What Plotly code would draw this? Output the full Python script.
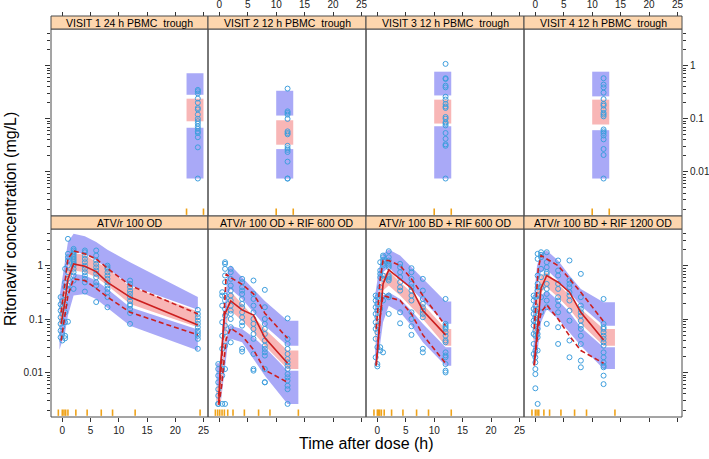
import plotly.graph_objects as go

# ---------------- text ----------------
top_titles = ["VISIT 1 24 h PBMC\u00a0 trough", "VISIT 2 12 h PBMC\u00a0 trough",
              "VISIT 3 12 h PBMC\u00a0 trough", "VISIT 4 12 h PBMC\u00a0 trough"]
bottom_titles = ["ATV/r 100 OD", "ATV/r 100 OD + RIF 600 OD",
                 "ATV/r 100 BD + RIF 600 OD", "ATV/r 100 BD + RIF 1200 OD"]
x_ticks = [0, 5, 10, 15, 20, 25]
y_ticks = [0.01, 0.1, 1]
y_ticktext = ["0.01", "0.1", "1"]
y_minor = [m * d for d in (0.001, 0.01, 0.1, 1) for m in range(2, 10)]

# ---------------- top row: PBMC trough visits ----------------
v1_time = 24
v1_conc = [0.35, 0.33, 0.30, 0.24, 0.20, 0.16, 0.15, 0.12, 0.10, 0.090, 0.081,
           0.072, 0.065, 0.058, 0.054, 0.045, 0.029, 0.0075]
v1_bin = [22, 25]
v1_up = [0.72, 0.283]
v1_med = [0.239, 0.0897]
v1_lo = [0.0676, 0.00753]

v2_time = 12
v2_conc = [0.37, 0.138, 0.129, 0.12, 0.0995, 0.058, 0.054, 0.051, 0.031, 0.028,
           0.026, 0.0237, 0.0156, 0.0075, 0.0075]
v2_bin = [10, 13]
v2_up = [0.337, 0.115]
v2_med = [0.0938, 0.0325]
v2_lo = [0.0269, 0.0075]

v3_time = 12
v3_conc = [1.08, 0.58, 0.56, 0.42, 0.39, 0.26, 0.23, 0.19, 0.17, 0.16, 0.108, 0.10,
           0.086, 0.081, 0.075, 0.054, 0.042, 0.033, 0.031, 0.0075]
v3_bin = [10, 13]
v3_up = [0.77, 0.275]
v3_med = [0.229, 0.0813]
v3_lo = [0.0724, 0.0075]

v4_time = 12
v4_conc = [0.58, 0.44, 0.39, 0.31, 0.235, 0.19, 0.177, 0.149, 0.129, 0.12, 0.111,
           0.063, 0.058, 0.054, 0.0485, 0.041, 0.027, 0.0208, 0.0075]
v4_bin = [10, 13]
v4_up = [0.77, 0.264]
v4_med = [0.229, 0.078]
v4_lo = [0.061, 0.0075]

# ---------------- panel 1: ATV/r 100 OD ----------------
p1_bin_t = [-0.5, 0.5, 1, 2, 4, 6, 8, 12, 24]
p1_up_hi = [0.26, 1.35, 2.8, 4.0, 3.6, 2.8, 2.0, 1.17, 0.26]
p1_up_lo = [0.135, 0.43, 0.94, 1.8, 1.68, 1.26, 0.90, 0.43, 0.15]
p1_med_hi = [0.126, 0.41, 0.90, 1.73, 1.61, 1.21, 0.88, 0.41, 0.139]
p1_med_lo = [0.066, 0.18, 0.46, 0.82, 0.76, 0.61, 0.43, 0.194, 0.071]
p1_lo_hi = [0.061, 0.156, 0.40, 0.71, 0.66, 0.53, 0.37, 0.168, 0.064]
p1_lo_lo = [0.027, 0.057, 0.117, 0.278, 0.298, 0.24, 0.168, 0.076, 0.026]
p1_line_t = [-0.2, 0.5, 1, 2, 4, 6, 8, 12, 24]
p1_median = [0.082, 0.22, 0.57, 1.09, 0.98, 0.78, 0.49, 0.26, 0.078]
p1_p95 = [0.135, 0.57, 1.35, 1.91, 1.68, 1.35, 0.90, 0.43, 0.126]
p1_p05 = [0.04, 0.117, 0.28, 0.57, 0.53, 0.38, 0.26, 0.135, 0.051]
p1_obs_t = [-0.3, 0, 0.5, 1, 2, 4, 6, 8, 12, 24]
p1_obs_c = [
    [0.26, 0.19, 0.145, 0.109, 0.082, 0.061, 0.046],
    [0.22, 0.17, 0.126, 0.094, 0.071, 0.053, 0.040],
    [0.88, 0.49, 0.40, 0.28, 0.19, 0.135, 0.088, 0.049, 0.044],
    [3.2, 1.68, 1.45, 1.26, 1.01, 0.76, 0.57, 0.43, 0.37, 0.09],
    [2.08, 1.94, 1.80, 1.68, 1.56, 1.45, 1.35, 1.26, 1.17, 1.09, 1.01, 0.88, 0.76, 0.66, 0.53, 0.37],
    [1.94, 1.80, 1.56, 1.35, 1.17, 1.01, 0.88, 0.76, 0.66, 0.57, 0.49, 0.33],
    [1.94, 1.56, 1.26, 1.09, 0.94, 0.82, 0.71, 0.61, 0.49, 0.43, 0.21],
    [1.01, 0.94, 0.88, 0.76, 0.66, 0.57, 0.49, 0.43, 0.37, 0.32, 0.26, 0.168],
    [0.53, 0.46, 0.40, 0.34, 0.30, 0.26, 0.22, 0.19, 0.18, 0.156, 0.131, 0.082],
    [0.15, 0.126, 0.109, 0.094, 0.082, 0.071, 0.061, 0.055, 0.049, 0.043, 0.028],
]
p1_rug = [-0.7, 0, 0.3, 0.6, 1.0, 2.4, 4.4, 6.9, 8.9, 12.9, 24.4]

# ---------------- panel 2: ATV/r 100 OD + RIF 600 OD ----------------
p2_bin_t = [-0.5, 0.2, 1.5, 2, 4, 6, 8, 12, 13.9]
p2_up_hi = [0.015, 0.015, 0.85, 1.01, 0.61, 0.37, 0.22, 0.094, 0.094]
p2_up_lo = [0.0057, 0.0057, 0.30, 0.37, 0.24, 0.135, 0.076, 0.032, 0.032]
p2_med_hi = [0.0055, 0.0055, 0.27, 0.33, 0.194, 0.114, 0.066, 0.026, 0.026]
p2_med_lo = [0.0025, 0.0025, 0.12, 0.145, 0.094, 0.057, 0.032, 0.0117, 0.0117]
p2_lo_hi = [0.0046, 0.0046, 0.07, 0.076, 0.066, 0.046, 0.030, 0.0109, 0.0109]
p2_lo_lo = [0.0025, 0.0025, 0.035, 0.043, 0.037, 0.018, 0.0088, 0.0026, 0.0026]
p2_line_t = [-0.1, 0.1, 0.9, 2, 4, 6, 8, 12]
p2_median = [0.0027, 0.0097, 0.12, 0.22, 0.15, 0.12, 0.045, 0.015]
p2_p95_t = [-0.1, 0.4, 1.2, 2, 4, 6, 8, 12]
p2_p95 = [0.0037, 0.0156, 0.70, 0.60, 0.45, 0.30, 0.13, 0.044]
p2_p05 = [0.0025, 0.0057, 0.043, 0.068, 0.049, 0.027, 0.0112, 0.0066]
p2_obs_t = [-0.2, 0.5, 1, 2, 4, 6, 8, 12]
p2_obs_c = [
    [0.0145, 0.0117, 0.0088, 0.0066, 0.0049, 0.0037, 0.0026, 0.0026],
    [0.321, 0.278, 0.18, 0.088, 0.049, 0.028, 0.0156, 0.0117, 0.0088, 0.0026],
    [1.17, 1.09, 0.878, 0.659, 0.494, 0.278, 0.224, 0.156, 0.117, 0.076, 0.057, 0.032, 0.0117, 0.0026],
    [0.878, 0.761, 0.57, 0.428, 0.344, 0.278, 0.224, 0.18, 0.145, 0.126, 0.101, 0.071, 0.037],
    [0.57, 0.494, 0.398, 0.344, 0.298, 0.24, 0.194, 0.168, 0.135, 0.109, 0.088, 0.076, 0.0278, 0.0248],
    [0.531, 0.298, 0.24, 0.18, 0.135, 0.101, 0.082, 0.066, 0.053, 0.043, 0.0224, 0.0117, 0.0109],
    [0.355, 0.168, 0.101, 0.082, 0.066, 0.053, 0.040, 0.032, 0.0278, 0.0241, 0.0209, 0.0117, 0.0066, 0.0066],
    [0.104, 0.043, 0.0345, 0.0278, 0.0224, 0.018, 0.0156, 0.0135, 0.0117, 0.0094, 0.0082, 0.0071, 0.0057, 0.0049, 0.0026],
]
p2_rug = [-0.7, -0.3, 0.06, 0.47, 0.88, 1.47, 2.4, 4.4, 6.9, 8.9, 13.9]

# ---------------- panel 3: ATV/r 100 BD + RIF 600 OD ----------------
p3_bin_t = [-0.4, 0.3, 1, 2, 4, 6, 8, 12, 13]
p3_up_hi = [0.278, 0.878, 1.68, 2.02, 1.56, 0.944, 0.57, 0.214, 0.214]
p3_up_lo = [0.076, 0.398, 0.761, 0.944, 0.57, 0.37, 0.224, 0.082, 0.082]
p3_med_hi = [0.066, 0.344, 0.659, 0.818, 0.494, 0.321, 0.194, 0.066, 0.066]
p3_med_lo = [0.032, 0.135, 0.344, 0.428, 0.278, 0.168, 0.101, 0.032, 0.032]
p3_lo_hi = [0.0278, 0.117, 0.278, 0.321, 0.24, 0.145, 0.082, 0.030, 0.030]
p3_lo_lo = [0.0135, 0.0241, 0.088, 0.18, 0.135, 0.076, 0.037, 0.0135, 0.0135]
p3_line_t = [-0.2, 0.5, 1, 2, 4, 6, 8, 12]
p3_median = [0.0139, 0.117, 0.46, 0.84, 0.57, 0.381, 0.145, 0.051]
p3_p95 = [0.066, 0.57, 1.26, 1.26, 1.01, 0.57, 0.278, 0.076]
p3_p05 = [0.0135, 0.117, 0.278, 0.259, 0.224, 0.126, 0.051, 0.015]
p3_obs_t = [-0.3, 0, 0.5, 1, 2, 4, 6, 8, 12]
p3_obs_c = [
    [0.278, 0.224, 0.168, 0.126, 0.088, 0.066, 0.043, 0.0194],
    [0.259, 0.194, 0.145, 0.109, 0.076, 0.057, 0.030, 0.0145, 0.0131],
    [1.17, 0.818, 0.708, 0.613, 0.398, 0.278, 0.156, 0.030, 0.026],
    [1.56, 1.45, 1.26, 1.09, 1.01, 0.659, 0.57, 0.278, 0.224, 0.024],
    [1.88, 1.45, 1.26, 1.09, 1.01, 0.944, 0.659, 0.613, 0.57, 0.531, 0.278, 0.259, 0.126],
    [1.09, 0.944, 0.761, 0.613, 0.494, 0.398, 0.344, 0.135, 0.084],
    [0.904, 0.761, 0.57, 0.46, 0.398, 0.344, 0.278, 0.224, 0.135, 0.101, 0.074, 0.051],
    [0.57, 0.344, 0.24, 0.194, 0.168, 0.145, 0.126, 0.109, 0.028, 0.024],
    [0.24, 0.082, 0.076, 0.071, 0.066, 0.057, 0.049, 0.040, 0.037, 0.024, 0.021, 0.0194, 0.0145, 0.0109, 0.0101],
]
p3_rug = [-0.6, 0, 0.18, 0.4, 0.7, 1.2, 2.5, 4.5, 6.9, 9, 13]

# ---------------- panel 4: ATV/r 100 BD + RIF 1200 OD ----------------
p4_bin_t = [-0.4, 0.3, 1, 2, 4, 6, 8, 12, 14]
p4_up_hi = [0.18, 1.01, 1.68, 1.94, 1.26, 0.659, 0.37, 0.208, 0.208]
p4_up_lo = [0.071, 0.428, 0.761, 0.854, 0.531, 0.321, 0.18, 0.076, 0.076]
p4_med_hi = [0.066, 0.37, 0.659, 0.761, 0.46, 0.278, 0.156, 0.066, 0.066]
p4_med_lo = [0.0345, 0.117, 0.321, 0.398, 0.259, 0.156, 0.082, 0.032, 0.032]
p4_lo_hi = [0.030, 0.101, 0.278, 0.344, 0.224, 0.135, 0.071, 0.030, 0.030]
p4_lo_lo = [0.0135, 0.0209, 0.088, 0.156, 0.101, 0.057, 0.032, 0.0117, 0.0117]
p4_line_t = [-0.2, 0.5, 1, 2, 4, 6, 8, 12]
p4_median = [0.0139, 0.117, 0.381, 0.659, 0.494, 0.321, 0.135, 0.041]
p4_p95 = [0.066, 0.878, 1.56, 1.35, 1.01, 0.57, 0.321, 0.091]
p4_p05 = [0.0135, 0.066, 0.135, 0.186, 0.101, 0.049, 0.026, 0.015]
p4_obs_t = [-0.3, 0, 0.4, 1, 2, 4, 6, 8, 12]
p4_obs_c = [
    [0.278, 0.224, 0.156, 0.126, 0.094, 0.076, 0.053, 0.0345, 0.0224],
    [0.259, 0.18, 0.145, 0.109, 0.088, 0.061, 0.049, 0.026, 0.0194, 0.0156, 0.0117, 0.0094, 0.0051],
    [1.68, 1.35, 0.659, 0.46, 0.398, 0.344, 0.278, 0.156, 0.117, 0.088, 0.066, 0.053, 0.046, 0.026, 0.0026],
    [1.80, 1.61, 1.45, 0.878, 0.613, 0.398, 0.259, 0.135],
    [1.80, 1.17, 0.944, 0.761, 0.708, 0.46, 0.37, 0.298, 0.224, 0.168, 0.082],
    [1.26, 0.818, 0.659, 0.46, 0.37, 0.259, 0.224, 0.18, 0.135, 0.071, 0.0345],
    [1.26, 0.531, 0.46, 0.398, 0.321, 0.278, 0.224, 0.145, 0.094, 0.040, 0.0194],
    [0.708, 0.259, 0.18, 0.156, 0.135, 0.117, 0.094, 0.076, 0.066, 0.049, 0.0345, 0.0168, 0.0126],
    [0.24, 0.082, 0.071, 0.066, 0.057, 0.049, 0.043, 0.037, 0.032, 0.024, 0.0194, 0.0156, 0.0135, 0.0126, 0.0088, 0.0061],
]
p4_rug = [-0.6, 0, 0.3, 0.6, 1.5, 2.5, 4.5, 6.9, 9, 14]

# ---------------- styling ----------------
FONT = "Liberation Sans, Arial, sans-serif"
BLUE = "#A9A9F7"
PINK = "#F8B6B6"
RED = "#CC1F1F"
PT = "#3F9FDE"
RUG = "#EFA31A"
STRIP = "#FDD6AE"
FRAME = "#4a4a4a"
W, H = 709, 459

col_px = [(51, 208), (208, 366), (366, 524), (524, 682)]
top_px, bot_px = (29, 216), (229, 417)
strip_top_px, strip_bot_px = (16, 29), (216, 229)
X_RANGE = [-2.0, 25.8]
Y_RANGE = [-2.83, 0.69]


def fx(p):
    return p / W


def fy(p):
    return 1 - p / H


fig = go.Figure()
shapes, annotations = [], []


def axn(k):
    return "" if k == 1 else str(k)


def band(k, xs, lo, hi, color):
    fig.add_trace(go.Scatter(x=list(xs) + list(xs)[::-1], y=list(hi) + list(lo)[::-1],
                             fill="toself", fillcolor=color, mode="lines",
                             line=dict(width=0, color=color), hoverinfo="skip",
                             xaxis="x" + axn(k), yaxis="y" + axn(k)))


def points(k, xs, ys):
    fig.add_trace(go.Scatter(x=xs, y=ys, mode="markers",
                             marker=dict(symbol="circle-open", size=5, color=PT,
                                         line=dict(width=1, color=PT)),
                             xaxis="x" + axn(k), yaxis="y" + axn(k)))


def line(k, xs, ys, dash):
    fig.add_trace(go.Scatter(x=xs, y=ys, mode="lines",
                             line=dict(color=RED, width=1.6, dash=dash),
                             xaxis="x" + axn(k), yaxis="y" + axn(k)))


def rug(k, xs):
    for v in xs:
        shapes.append(dict(type="line", xref="x" + axn(k), yref="y" + axn(k) + " domain",
                           x0=v, x1=v, y0=0.006, y1=0.04,
                           line=dict(color=RUG, width=1.6)))


# top row panels (k = 1..4)
top_sets = [
    (v1_time, v1_conc, v1_bin, v1_up, v1_med, v1_lo),
    (v2_time, v2_conc, v2_bin, v2_up, v2_med, v2_lo),
    (v3_time, v3_conc, v3_bin, v3_up, v3_med, v3_lo),
    (v4_time, v4_conc, v4_bin, v4_up, v4_med, v4_lo),
]
for i, (t, conc, bn, up, med, lo) in enumerate(top_sets):
    k = i + 1
    band(k, bn, [up[1]] * 2, [up[0]] * 2, BLUE)
    band(k, bn, [lo[1]] * 2, [lo[0]] * 2, BLUE)
    band(k, bn, [med[1]] * 2, [med[0]] * 2, PINK)
    points(k, [t] * len(conc), conc)
    rug(k, bn)

# bottom row panels (k = 5..8)
bottom_sets = [
    (p1_bin_t, p1_up_hi, p1_up_lo, p1_med_hi, p1_med_lo, p1_lo_hi, p1_lo_lo,
     p1_line_t, p1_median, p1_line_t, p1_p95, p1_line_t, p1_p05, p1_obs_t, p1_obs_c, p1_rug),
    (p2_bin_t, p2_up_hi, p2_up_lo, p2_med_hi, p2_med_lo, p2_lo_hi, p2_lo_lo,
     p2_line_t, p2_median, p2_p95_t, p2_p95, p2_p95_t, p2_p05, p2_obs_t, p2_obs_c, p2_rug),
    (p3_bin_t, p3_up_hi, p3_up_lo, p3_med_hi, p3_med_lo, p3_lo_hi, p3_lo_lo,
     p3_line_t, p3_median, p3_line_t, p3_p95, p3_line_t, p3_p05, p3_obs_t, p3_obs_c, p3_rug),
    (p4_bin_t, p4_up_hi, p4_up_lo, p4_med_hi, p4_med_lo, p4_lo_hi, p4_lo_lo,
     p4_line_t, p4_median, p4_line_t, p4_p95, p4_line_t, p4_p05, p4_obs_t, p4_obs_c, p4_rug),
]
for i, s in enumerate(bottom_sets):
    k = i + 5
    (bt, uh, ul, mh, ml, lh, ll, mt, med, ut, p95, lt, p05, ot, oc, rg) = s
    band(k, bt, ul, uh, BLUE)
    band(k, bt, ll, lh, BLUE)
    band(k, bt, ml, mh, PINK)
    xs, ys = [], []
    for t, cs in zip(ot, oc):
        xs += [t] * len(cs)
        ys += cs
    points(k, xs, ys)
    line(k, ut, p95, "5px,3px")
    line(k, lt, p05, "5px,3px")
    line(k, mt, med, "solid")
    rug(k, rg)

# axes
layout = {}
tickfont = dict(family=FONT, size=10, color="#222")
for row in range(2):
    for c in range(4):
        k = row * 4 + c + 1
        n = axn(k)
        ydom = [fy(top_px[1]), fy(top_px[0])] if row == 0 else [fy(bot_px[1]), fy(bot_px[0])]
        xa = dict(domain=[fx(col_px[c][0]), fx(col_px[c][1])], range=X_RANGE,
                  tickvals=x_ticks, ticks="outside", ticklen=4, tickcolor="#333",
                  showgrid=False, zeroline=False, showline=False, tickfont=tickfont)
        if row == 0:
            xa.update(anchor="free", position=fy(strip_top_px[0]), side="top",
                      showticklabels=(c in (1, 3)))
        else:
            xa.update(anchor="y" + n, side="bottom", showticklabels=(c in (0, 2)))
        ya = dict(domain=ydom, type="log", range=Y_RANGE, anchor="x" + n,
                  tickvals=y_ticks, ticktext=y_ticktext, showgrid=False,
                  zeroline=False, showline=False, tickfont=tickfont)
        if c == 0 or c == 3:
            ya.update(ticks="outside", ticklen=5, tickcolor="#333",
                      side="left" if c == 0 else "right",
                      showticklabels=(row == 1 and c == 0) or (row == 0 and c == 3),
                      minor=dict(tickvals=y_minor, ticks="outside", ticklen=3,
                                 tickcolor="#333", showgrid=False))
        else:
            ya.update(ticks="", showticklabels=False)
        layout["xaxis" + n] = xa
        layout["yaxis" + n] = ya

        # panel frame
        py = top_px if row == 0 else bot_px
        shapes.append(dict(type="rect", xref="paper", yref="paper",
                           x0=fx(col_px[c][0]), x1=fx(col_px[c][1]),
                           y0=fy(py[1]), y1=fy(py[0]),
                           line=dict(color=FRAME, width=1), fillcolor="rgba(0,0,0,0)",
                           layer="above"))
        # strip
        sp = strip_top_px if row == 0 else strip_bot_px
        shapes.append(dict(type="rect", xref="paper", yref="paper",
                           x0=fx(col_px[c][0]), x1=fx(col_px[c][1]),
                           y0=fy(sp[1]), y1=fy(sp[0]),
                           line=dict(color=FRAME, width=1), fillcolor=STRIP,
                           layer="above"))
        annotations.append(dict(text=(top_titles if row == 0 else bottom_titles)[c],
                                xref="paper", yref="paper",
                                x=fx((col_px[c][0] + col_px[c][1]) / 2),
                                y=fy((sp[0] + sp[1]) / 2), showarrow=False,
                                xanchor="center", yanchor="middle",
                                font=dict(family=FONT, size=10.5, color="#000")))

annotations.append(dict(text="Ritonavir concentration (mg/L)", xref="paper", yref="paper",
                        x=fx(10), y=fy(219), textangle=-90, showarrow=False,
                        xanchor="center", yanchor="middle",
                        font=dict(family=FONT, size=16, color="#000")))
annotations.append(dict(text="Time after dose (h)", xref="paper", yref="paper",
                        x=fx(366), y=fy(443), showarrow=False,
                        xanchor="center", yanchor="middle",
                        font=dict(family=FONT, size=16, color="#000")))

fig.update_layout(width=W, height=H, margin=dict(l=0, r=0, t=0, b=0),
                  paper_bgcolor="white", plot_bgcolor="white", showlegend=False,
                  shapes=shapes, annotations=annotations, **layout)
fig.write_html("out.html")
